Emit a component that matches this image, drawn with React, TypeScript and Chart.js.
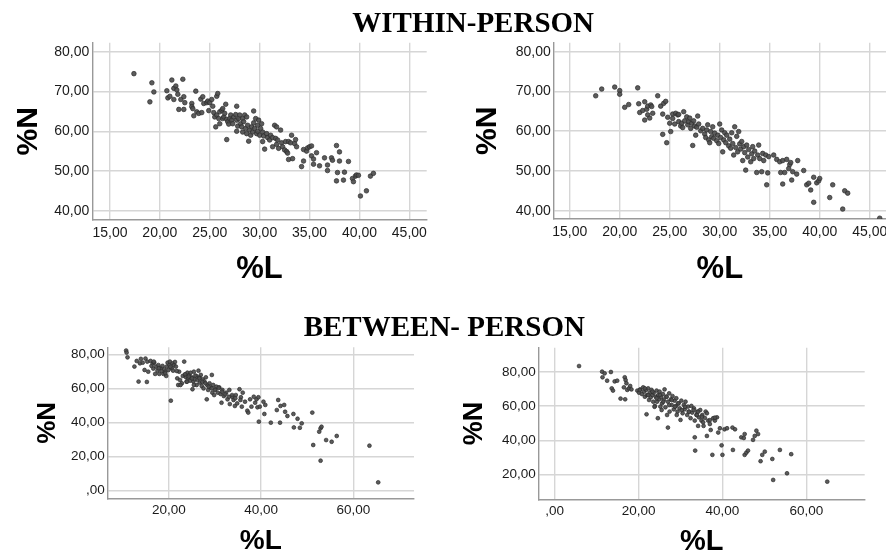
import React, { useEffect, useRef } from 'react';
import { Chart, registerables } from 'chart.js';

Chart.register(...registerables);

type Pt = [number, number];

// ---- DATA (%L, %N) ----
const withinPersonA: Pt[] = [
  [17.4,74.5],[19.2,72.2],[19.0,67.4],[19.4,69.9],[20.7,70.2],[20.8,68.4],[21.0,68.8],[21.2,72.9],[21.4,70.8],[21.6,71.4],
  [21.7,70.4],[21.4,68.0],[21.8,69.3],[21.9,65.5],[22.1,68.0],[22.3,73.1],[22.4,68.7],[22.4,65.5],[22.5,67.2],[23.2,67.0],
  [23.2,66.2],[23.3,65.7],[23.4,63.9],[23.6,70.1],[23.7,64.9],[23.9,64.5],[24.1,68.1],[24.3,68.7],[24.2,64.7],[24.4,67.0],
  [24.7,67.2],[24.8,67.6],[24.9,65.2],[25.0,67.2],[25.2,68.0],[25.3,66.3],[25.4,64.7],[25.5,63.6],[25.6,61.1],[25.7,68.8],
  [25.8,69.5],[25.7,64.1],[25.9,63.2],[26.0,64.9],[26.0,61.9],[26.2,65.3],[26.3,65.7],[26.3,63.2],[26.4,63.6],[26.5,64.5],
  [26.6,66.8],[26.7,63.0],[26.8,62.4],[26.7,57.9],[26.9,61.8],[27.0,63.2],[27.1,64.1],[27.2,62.8],[27.3,61.9],[27.4,63.6],
  [27.6,64.2],[27.7,66.3],[27.7,62.8],[27.7,60.0],[27.8,61.3],[27.9,63.2],[28.0,64.1],[28.1,61.9],[28.2,61.1],[28.3,63.2],
  [28.3,59.8],[28.4,62.4],[28.5,64.1],[28.6,60.7],[28.7,63.6],[28.7,59.4],[28.8,61.5],[28.9,57.5],[29.0,60.3],[29.1,59.0],
  [29.2,61.1],[29.3,59.8],[29.4,65.1],[29.4,62.1],[29.5,60.7],[29.6,63.2],[29.7,59.4],[29.8,61.5],[29.8,60.0],[29.9,62.8],
  [30.0,59.0],[30.1,60.7],[30.2,61.9],[30.3,59.8],[30.3,57.4],[30.4,58.8],[30.5,55.5],[30.7,59.4],[30.8,58.4],[31.0,57.8],
  [31.1,59.0],[31.3,58.4],[31.3,56.1],[31.5,61.5],[31.6,58.2],[31.7,56.7],[31.7,61.1],[31.8,57.8],[31.9,55.7],[32.1,60.3],
  [32.2,57.1],[32.3,56.1],[32.5,55.3],[32.7,54.9],[32.6,57.4],[32.8,54.5],[32.9,57.4],[33.1,57.1],[32.9,52.9],[33.2,59.0],
  [33.3,53.1],[33.5,56.9],[33.6,57.9],[33.7,56.1],[34.2,51.1],[34.4,55.4],[34.4,52.5],[34.7,55.0],[34.8,55.8],[35.0,56.1],
  [35.2,56.3],[35.2,53.8],[35.4,53.0],[35.4,51.7],[35.7,54.6],[36.0,51.3],[36.5,53.3],[36.8,51.5],[36.8,50.1],[37.2,53.3],
  [37.3,52.7],[37.7,56.4],[37.7,47.5],[37.8,49.6],[38.0,54.8],[38.0,52.5],[38.4,47.7],[38.5,49.7],[38.9,52.4],[39.3,48.1],
  [39.4,47.3],[39.6,48.7],[39.7,49.0],[39.9,48.9],[40.1,43.7],[40.7,45.0],[41.1,48.7],[41.4,49.4]
];

const withinPersonB: Pt[] = [
  [17.6,68.9],[18.2,70.6],[19.5,71.1],[20.0,70.2],[20.0,69.3],[20.5,66.0],[20.9,66.7],[21.8,70.9],[21.9,66.9],[22.0,64.7],
  [22.3,65.2],[22.5,67.4],[22.5,62.8],[22.7,65.5],[22.8,64.1],[22.8,66.3],[23.0,63.3],[23.1,66.6],[23.2,66.2],[23.3,64.5],
  [23.8,68.9],[24.1,66.3],[24.3,59.2],[24.3,64.3],[24.4,67.0],[24.6,67.5],[24.7,57.1],[24.8,63.5],[25.0,62.0],[25.1,59.9],
  [25.3,64.3],[25.3,63.2],[25.5,61.8],[25.6,64.5],[25.8,64.1],[25.9,62.4],[25.9,64.2],[26.1,61.3],[26.2,62.0],[26.3,60.9],
  [26.4,64.9],[26.5,62.6],[26.7,63.6],[26.8,61.6],[26.9,62.4],[27.0,63.3],[27.1,60.7],[27.2,62.0],[27.3,56.4],[27.4,62.6],
  [27.5,61.3],[27.6,59.0],[27.7,61.0],[27.8,63.8],[27.9,61.8],[28.1,60.1],[28.3,60.7],[28.5,59.3],[28.6,58.4],[28.7,60.3],
  [28.8,61.6],[28.9,57.8],[29.0,57.1],[29.1,59.9],[29.2,58.6],[29.3,61.1],[29.4,58.2],[29.5,59.5],[29.7,57.6],[29.8,59.0],
  [29.9,56.9],[30.0,61.8],[30.1,58.4],[30.2,60.3],[30.3,54.8],[30.4,57.8],[30.5,59.6],[30.6,57.1],[30.7,59.0],[30.9,56.3],
  [31.0,58.0],[31.1,55.7],[31.2,59.6],[31.3,56.9],[31.4,54.0],[31.5,61.1],[31.6,55.9],[31.7,58.7],[31.8,54.8],[31.9,59.9],
  [32.0,56.8],[32.1,55.5],[32.2,57.4],[32.3,52.6],[32.4,56.1],[32.5,54.6],[32.6,50.2],[32.7,56.5],[32.8,53.5],[32.9,55.4],
  [33.1,52.3],[33.2,54.3],[33.3,56.1],[33.4,53.1],[33.5,55.0],[33.7,49.6],[33.8,54.0],[33.9,56.5],[34.0,53.1],[34.2,49.8],
  [34.3,54.4],[34.4,52.6],[34.6,54.0],[34.7,46.5],[34.8,49.5],[34.9,53.6],[35.4,54.0],[35.7,52.9],[36.0,52.3],[36.1,49.6],
  [36.3,46.7],[36.3,52.6],[36.5,49.6],[36.7,52.9],[36.9,50.6],[37.0,51.6],[37.1,52.1],[37.2,47.7],[37.3,49.8],[37.7,49.2],
  [37.8,52.6],[38.4,50.1],[38.7,46.5],[38.9,46.9],[39.1,45.2],[39.4,42.1],[39.4,48.4],[39.7,47.0],[39.9,47.5],[40.0,48.1],
  [41.0,43.3],[41.3,46.5],[42.3,40.4],[42.5,45.0],[42.8,44.4],[46.0,38.1]
];

const betweenPersonA: Pt[] = [
  [10.7,82.2],[10.8,81.0],[11.0,78.2],[12.5,72.8],[13.0,76.1],[13.4,64.0],[13.7,74.7],[13.9,77.3],[14.3,75.1],[14.7,70.8],
  [14.9,77.5],[15.2,63.8],[15.3,75.7],[15.5,69.8],[16.0,76.1],[16.2,73.2],[16.5,74.7],[16.6,71.6],[16.8,75.1],[17.0,68.5],
  [17.2,72.8],[17.5,70.4],[17.7,73.7],[17.9,68.5],[18.2,71.8],[18.4,70.2],[18.6,73.2],[18.8,68.5],[19.0,71.2],[19.2,69.8],
  [19.4,67.3],[19.5,72.8],[19.7,75.1],[19.9,70.8],[20.1,73.7],[20.2,75.7],[20.4,52.8],[20.6,71.8],[20.8,74.7],[20.9,70.4],
  [21.1,73.7],[21.3,75.5],[21.5,72.8],[21.8,65.9],[22.0,62.0],[22.2,69.8],[22.4,64.9],[22.8,63.0],[23.0,67.3],[23.3,75.7],
  [23.5,67.9],[23.7,66.5],[23.8,64.0],[24.0,69.2],[24.2,65.9],[24.4,67.9],[24.6,64.5],[24.7,69.2],[24.9,66.5],[25.1,59.5],
  [25.3,64.0],[25.4,69.8],[25.6,65.3],[25.9,67.3],[26.0,62.0],[26.2,65.0],[26.4,70.4],[26.6,66.5],[26.7,63.4],[26.9,67.9],
  [27.1,61.4],[27.3,65.3],[27.5,60.0],[27.7,64.0],[28.0,66.5],[28.2,53.6],[28.3,62.0],[28.5,59.1],[28.8,63.0],[29.0,60.6],
  [29.3,67.9],[29.4,57.5],[29.6,62.0],[29.8,56.1],[30.1,59.5],[30.3,61.0],[30.6,57.5],[30.9,60.6],[31.2,56.7],[31.4,51.6],
  [31.6,59.1],[31.9,55.5],[32.4,57.5],[32.7,53.6],[33.1,59.1],[33.2,50.8],[33.7,55.1],[34.0,53.2],[34.3,49.7],[34.5,56.1],
  [34.8,51.2],[35.3,59.5],[35.6,54.8],[35.8,49.3],[36.0,57.5],[36.5,52.2],[37.0,46.9],[37.2,45.8],[37.6,53.6],[37.9,49.3],
  [38.4,55.1],[38.7,51.6],[39.0,53.6],[39.2,48.9],[39.4,54.8],[39.5,40.5],[39.7,49.3],[40.5,52.2],[40.7,45.0],[40.9,50.3],
  [42.1,39.9],[43.4,47.3],[43.7,53.2],[44.1,39.9],[44.2,49.7],[45.0,50.3],[45.2,46.3],[45.7,43.8],[47.0,45.0],[47.1,37.1],
  [47.9,42.2],[48.4,36.9],[48.8,39.5],[51.1,45.8],[51.3,26.8],[52.6,34.6],[52.9,36.6],[53.1,37.5],[52.9,17.6],[54.1,29.7],
  [55.3,28.7],[56.4,32.1],[63.5,26.4],[65.4,4.9],
  [23.5,68.3],[24.3,66.9],[25.0,65.9],[25.7,67.5],[26.6,65.9],[27.2,63.9],[27.9,63.0],[28.6,61.0],[29.3,60.0],[30.0,59.1],
  [30.8,60.4],[31.5,58.1],[32.2,56.5],[33.0,55.1],[33.7,56.1],[34.4,54.2],[35.5,53.2],[16.7,75.7],[17.8,71.8],[19.2,68.9],
  [20.3,72.7],[21.7,70.2],[22.5,62.0],[23.9,63.9],[25.4,62.0]
];

const betweenPersonB: Pt[] = [
  [5.8,83.5],[11.3,80.2],[11.4,76.9],[11.9,79.2],[12.5,74.9],[13.4,80.0],[13.6,70.4],[13.9,69.1],[14.3,74.5],[14.9,74.9],
  [15.7,64.4],[16.8,64.0],[16.7,76.9],[16.9,75.3],[16.5,71.0],[17.1,73.4],[17.3,69.5],[17.7,70.4],[18.0,71.8],[18.3,69.8],
  [19.7,69.1],[20.1,67.9],[20.4,69.8],[20.8,67.1],[21.1,71.0],[21.3,68.5],[21.5,65.5],[21.8,69.5],[21.9,55.2],[22.0,66.5],
  [22.3,70.4],[22.5,63.6],[22.7,67.9],[22.9,65.2],[23.1,69.5],[23.3,66.5],[23.5,62.6],[23.6,67.9],[23.9,60.1],[24.1,65.5],
  [24.3,69.1],[24.4,62.6],[24.6,52.9],[24.7,66.5],[24.9,64.0],[25.0,68.5],[25.2,59.7],[25.4,65.2],[25.6,61.6],[25.8,67.1],
  [26.0,63.6],[26.2,69.8],[26.4,59.3],[26.6,65.5],[26.8,54.8],[27.0,47.4],[27.0,62.6],[27.3,67.5],[27.4,56.8],[27.7,64.0],
  [27.9,60.7],[28.1,65.9],[28.4,58.1],[28.6,63.2],[28.9,60.1],[29.0,64.6],[29.3,56.8],[29.5,61.6],[29.8,58.7],[30.0,51.9],
  [30.2,63.2],[30.5,55.8],[30.8,60.7],[31.0,58.1],[31.2,62.6],[31.6,54.8],[31.8,59.7],[32.0,56.8],[32.4,52.9],[32.6,60.1],
  [32.8,56.2],[33.2,58.7],[33.4,41.7],[33.5,33.9],[33.4,51.5],[33.8,54.8],[34.0,56.8],[34.2,48.4],[34.4,53.4],[34.7,57.7],
  [35.0,51.5],[35.2,54.8],[35.5,48.4],[35.8,53.1],[36.0,56.8],[36.3,42.5],[36.6,51.5],[37.0,49.5],[37.2,46.0],[37.6,31.4],
  [37.8,52.9],[38.2,51.5],[38.7,53.4],[39.0,44.5],[39.4,47.0],[39.8,37.0],[40.0,31.4],[40.5,46.4],[41.1,47.0],[42.4,47.4],
  [42.5,34.3],[43.0,46.4],[44.5,41.7],[45.1,41.3],[45.3,43.6],[45.3,31.4],[45.7,32.7],[46.1,33.9],[47.3,40.2],[47.7,42.5],
  [48.1,45.6],[48.5,43.6],[49.1,27.7],[49.5,31.4],[50.1,33.3],[51.9,29.0],[52.1,16.7],[53.7,34.3],[55.4,20.6],[56.4,31.8],
  [65.0,15.7],
  [20.3,69.4],[21.5,70.4],[22.3,66.5],[23.3,68.5],[24.3,64.6],[25.1,66.5],[25.9,62.6],[26.7,65.5],[27.3,60.6],[27.9,63.6],
  [28.7,59.6],[29.5,61.6],[30.3,57.7],[31.1,59.6],[32.0,56.7],[33.1,57.7],[33.9,54.8],[23.8,59.6],[25.5,57.7],[29.1,54.8],
  [34.2,56.7],[35.1,53.8],[36.3,55.8],[37.0,51.8],[38.2,53.2],[35.4,50.5]
];

// tick values
const withinTicksL = [15, 20, 25, 30, 35, 40, 45];
const withinTicksN = [40, 50, 60, 70, 80];
const betweenATicksL = [20, 40, 60];
const betweenATicksN = [0, 20, 40, 60, 80];
const betweenBTicksL = [0, 20, 40, 60];
const betweenBTicksN = [20, 40, 60, 80];

const fmt = (v: number) => (v === 0 ? ',00' : v.toFixed(2).replace('.', ','));

const SANS = '"Liberation Sans", Arial, sans-serif';

interface PanelProps {
  points: Pt[];
  xMin: number; xMax: number; yMin: number; yMax: number;
  xTicks: number[]; yTicks: number[];
  box: { left: number; top: number; width: number; height: number };
  area: { l: number; t: number; r: number; b: number };
  tickSize: number; xTickPad: number;
  nSize: number; nPad: number; lSize: number; lPad: number;
  radius: number;
}

function Panel(p: PanelProps) {
  const ref = useRef<HTMLCanvasElement>(null);
  useEffect(() => {
    const canvas = ref.current;
    if (!canvas) return;
    const chart = new Chart(canvas, {
      type: 'scatter',
      data: {
        datasets: [{
          data: p.points.map(([x, y]) => ({ x, y })),
          pointRadius: p.radius,
          pointBackgroundColor: 'rgba(78,78,78,0.92)',
          pointBorderColor: '#2c2c2c',
          pointBorderWidth: 0.7,
        }],
      },
      options: {
        responsive: false,
        animation: false,
        devicePixelRatio: 1,
        events: [],
        plugins: { legend: { display: false }, tooltip: { enabled: false } },
        layout: { padding: { left: 0, top: p.area.t, right: p.box.width - p.area.r, bottom: 0 } },
        scales: {
          x: {
            type: 'linear', position: 'bottom', min: p.xMin, max: p.xMax,
            afterBuildTicks: (s: any) => { s.ticks = p.xTicks.map((value) => ({ value })); },
            afterFit: (s: any) => { s.height = p.box.height - p.area.b; },
            ticks: {
              autoSkip: false, maxRotation: 0, padding: p.xTickPad, color: '#1a1a1a',
              font: { family: SANS, size: p.tickSize },
              callback: (v: any) => fmt(Number(v)),
            },
            grid: { color: '#d6d6d6', lineWidth: 1.4, drawTicks: false },
            border: { display: true, color: '#999999', width: 1.4 },
            title: {
              display: true, text: '%L', color: '#000',
              font: { family: SANS, size: p.lSize, weight: 'bold' },
              padding: { top: 0, bottom: p.lPad },
            },
          },
          y: {
            type: 'linear', position: 'left', min: p.yMin, max: p.yMax,
            afterBuildTicks: (s: any) => { s.ticks = p.yTicks.map((value) => ({ value })); },
            afterFit: (s: any) => { s.width = p.area.l; },
            ticks: {
              autoSkip: false, padding: 3, color: '#1a1a1a',
              font: { family: SANS, size: p.tickSize },
              callback: (v: any) => fmt(Number(v)),
            },
            grid: { color: '#d6d6d6', lineWidth: 1.4, drawTicks: false },
            border: { display: true, color: '#999999', width: 1.4 },
            title: {
              display: true, text: '%N', color: '#000',
              font: { family: SANS, size: p.nSize, weight: 'bold' },
              padding: { top: p.nPad, bottom: 0 },
            },
          },
        },
      } as any,
    });
    return () => chart.destroy();
  }, []);
  return (
    <canvas
      ref={ref}
      width={p.box.width}
      height={p.box.height}
      style={{ position: 'absolute', left: p.box.left, top: p.box.top, width: p.box.width, height: p.box.height }}
    />
  );
}

const titleStyle = (cx: number, top: number): React.CSSProperties => ({
  position: 'absolute', left: cx - 200, top, width: 400, textAlign: 'center',
  fontFamily: '"Liberation Serif", "Times New Roman", serif', fontWeight: 'bold',
  fontSize: 29, lineHeight: '29px', color: '#000', whiteSpace: 'nowrap', zIndex: 2,
});

export default function App() {
  return (
    <div style={{ position: 'absolute', left: 0, top: 0, width: 886, height: 558, overflow: 'hidden', background: '#fff' }}>
      <Panel
        points={withinPersonA} xMin={13.23} xMax={46.74} yMin={37.65} yMax={82.3}
        xTicks={withinTicksL} yTicks={withinTicksN}
        box={{ left: 0, top: 0, width: 443, height: 295 }}
        area={{ l: 92.3, t: 42.7, r: 426.7, b: 220 }}
        tickSize={14} xTickPad={5} nSize={30} nPad={10.4} lSize={31} lPad={6.6} radius={2.3}
      />
      <Panel
        points={withinPersonB} xMin={13.4} xMax={46.63} yMin={37.9} yMax={82.26}
        xTicks={withinTicksL} yTicks={withinTicksN}
        box={{ left: 443, top: 0, width: 470, height: 295 }}
        area={{ l: 110.7, t: 42.7, r: 443, b: 219 }}
        tickSize={14} xTickPad={5} nSize={30} nPad={26.7} lSize={31} lPad={6.6} radius={2.3}
      />
      <Panel
        points={betweenPersonA} xMin={6.7} xMax={73.17} yMin={-4.46} yMax={84.1}
        xTicks={betweenATicksL} yTicks={betweenATicksN}
        box={{ left: 0, top: 295, width: 443, height: 275 }}
        area={{ l: 107.7, t: 52.3, r: 414, b: 203.3 }}
        tickSize={13.5} xTickPad={3.7} nSize={26} nPad={32} lSize={28} lPad={11.8} radius={1.9}
      />
      <Panel
        points={betweenPersonB} xMin={-3.82} xMax={73.93} yMin={5.34} yMax={94.25}
        xTicks={betweenBTicksL} yTicks={betweenBTicksN}
        box={{ left: 443, top: 295, width: 443, height: 275 }}
        area={{ l: 95.7, t: 52.7, r: 421.7, b: 204.3 }}
        tickSize={13.5} xTickPad={3.7} nSize={27} nPad={15.6} lSize={29} lPad={10.5} radius={1.9}
      />
      <div style={titleStyle(473.2, 7.8)}>WITHIN-PERSON</div>
      <div style={titleStyle(444.3, 312.3)}>BETWEEN- PERSON</div>
    </div>
  );
}
